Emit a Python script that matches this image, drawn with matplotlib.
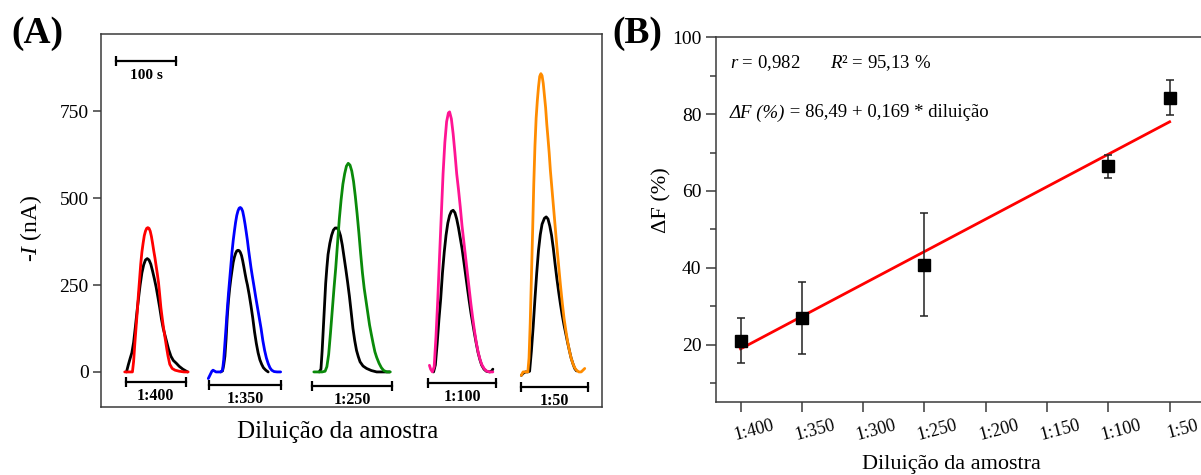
import matplotlib
matplotlib.use("Agg")
import matplotlib.pyplot as plt
from matplotlib.ticker import MultipleLocator
from matplotlib.transforms import ScaledTranslation

# Panel A: amperometric peaks, time in s, current in nA
# coloured trace = sample, black trace = control
t_400 = [40, 46, 53, 55, 57, 59, 61, 63, 65, 67, 69, 71, 73, 75, 77, 79, 81, 83, 85, 87,
         89, 91, 93, 95, 97, 99, 101, 103, 105, 107, 109, 111, 113, 116, 120, 125, 132, 140, 147]
i_400 = [0, 0, 0, 30, 80, 125, 170, 220, 265, 310, 345, 370, 392, 405, 413, 415, 413, 405, 390, 370,
         348, 328, 305, 282, 257, 222, 185, 158, 132, 110, 88, 66, 46, 22, 10, 5, 2, 0, 0]
tc_400 = [43, 46, 49, 52, 55, 58, 61, 64, 66, 69, 72, 75, 78, 81, 84, 87, 90, 93, 96, 99,
          102, 105, 108, 111, 114, 118, 122, 127, 132, 138, 143, 146]
ic_400 = [0, 20, 38, 55, 85, 130, 178, 222, 250, 285, 308, 322, 326, 322, 310, 290, 268, 244, 215, 185,
          152, 125, 105, 85, 65, 45, 33, 25, 16, 8, 3, 0]

t_350 = [181, 183, 185, 187, 189, 191, 194, 198, 202, 205, 207, 209, 211, 213, 215, 217, 219, 221, 223, 225,
         227, 229, 231, 233, 235, 237, 239, 241, 243, 245, 247, 249, 251, 253, 255, 258, 261, 264, 267, 270,
         273, 276, 279, 282, 285, 288, 292, 297, 303]
i_350 = [-19, -12, -5, 2, 5, 3, 0, 0, 0, 5, 35, 82, 130, 180, 225, 265, 305, 345, 378, 405,
         430, 450, 463, 471, 473, 470, 462, 445, 425, 402, 378, 350, 325, 300, 278, 247, 215, 185, 155, 125,
         90, 62, 40, 24, 12, 5, 1, 0, 0]
tc_350 = [202, 205, 207, 209, 211, 213, 215, 217, 219, 221, 223, 225, 227, 229, 231, 233, 235, 237, 239, 241,
          243, 245, 247, 250, 253, 256, 259, 262, 265, 268, 271, 274, 278, 282]
ic_350 = [0, 3, 20, 45, 95, 160, 205, 240, 268, 292, 315, 330, 341, 348, 350, 349, 344, 335, 320, 302,
          283, 265, 250, 222, 190, 155, 115, 82, 55, 35, 22, 12, 5, 0]

t_250 = [359, 366, 373, 378, 381, 384, 387, 390, 393, 396, 399, 402, 405, 408, 411, 414, 417, 420, 423, 426,
         429, 432, 435, 438, 441, 444, 447, 450, 453, 456, 459, 462, 465, 469, 473, 477, 482, 488]
i_250 = [0, 0, 0, 2, 15, 50, 110, 175, 240, 300, 370, 440, 495, 540, 570, 592, 600, 595, 578, 548,
         505, 455, 400, 340, 285, 240, 205, 170, 135, 108, 82, 58, 42, 25, 12, 4, 0, 0]
tc_250 = [368, 371, 373, 375, 377, 379, 381, 383, 386, 389, 392, 395, 398, 401, 404, 407, 410, 413, 416, 419,
          422, 425, 428, 431, 434, 437, 442, 448, 456, 465, 487]
ic_250 = [0, 8, 60, 125, 190, 255, 300, 338, 370, 393, 408, 414, 414, 408, 392, 365, 330, 295, 258, 218,
          172, 125, 90, 62, 44, 29, 17, 10, 4, 0, 0]

t_100 = [554, 556, 559, 562, 565, 568, 571, 574, 577, 580, 583, 586, 588, 591, 594, 597, 600, 603, 606, 609,
         612, 615, 618, 621, 624, 627, 630, 633, 636, 639, 642, 646, 650, 655, 661]
i_100 = [19, 8, 0, 15, 100, 205, 330, 450, 570, 660, 720, 745, 748, 728, 685, 630, 570, 525, 475, 420,
         375, 330, 285, 240, 195, 155, 118, 85, 58, 38, 22, 10, 3, 0, 0]
tc_100 = [561, 564, 567, 570, 573, 576, 579, 582, 585, 588, 591, 594, 597, 600, 603, 606, 609, 612, 615, 618,
          621, 624, 627, 630, 633, 636, 639, 642, 646, 650, 656, 659, 661]
ic_100 = [0, 20, 80, 150, 210, 285, 345, 393, 428, 450, 462, 465, 458, 440, 415, 385, 355, 318, 280, 242,
          205, 170, 140, 110, 82, 56, 36, 20, 8, 2, 0, 3, 8]

t_50 = [709, 712, 716, 720, 722, 724, 726, 728, 730, 732, 734, 736, 738, 740, 742, 744, 746, 748, 750, 752,
        754, 756, 758, 760, 763, 766, 769, 772, 775, 778, 781, 784, 787, 790, 793, 796, 799, 802, 806, 810,
        813, 816]
i_50 = [-10, 0, 0, 0, 40, 140, 270, 400, 540, 650, 730, 780, 820, 850, 858, 852, 830, 795, 760, 712,
        672, 630, 580, 540, 480, 420, 360, 305, 250, 200, 155, 120, 88, 62, 40, 24, 12, 5, 0, 0,
        5, 10]
tc_50 = [709, 712, 716, 720, 723, 726, 729, 732, 735, 738, 741, 744, 748, 751, 754, 757, 760, 763, 766, 769,
         772, 775, 778, 781, 784, 787, 790, 793, 796, 799, 802]
ic_50 = [-10, -4, 0, 0, 2, 60, 130, 210, 285, 350, 395, 425, 442, 446, 440, 420, 393, 355, 310, 268,
         230, 195, 163, 135, 110, 85, 62, 40, 24, 10, 3]

peak_colors = ["#ff0000", "#0000ff", "#0a8a0a", "#ff1493", "#ff8c00"]
dilution_labels = ["1:400", "1:350", "1:250", "1:100", "1:50"]
bar_start = [42, 183, 356, 552, 709]
bar_end = [143, 303, 491, 667, 821]
bar_level = [-30, -38, -40, -32, -43]

# Panel B: signal change vs dilution (x = -dilution factor)
dilution_x = [-400, -350, -250, -100, -50]
delta_f = [21.0, 26.9, 40.8, 66.4, 84.3]
delta_f_err = [5.9, 9.3, 13.4, 3.0, 4.6]
fit_x = [-400, -50]
fit_y = [18.9, 78.0]
b_ticks = [-400, -350, -300, -250, -200, -150, -100, -50]
b_tick_labels = ["1:400", "1:350", "1:300", "1:250", "1:200", "1:150", "1:100", "1:50"]


def style_spines(ax, visible):
    for side, spine in ax.spines.items():
        spine.set_visible(side in visible)
        spine.set_color("#3a3a3a")
        spine.set_linewidth(1.1)


def draw_panel_a(ax):
    samples = [(t_400, i_400), (t_350, i_350), (t_250, i_250), (t_100, i_100), (t_50, i_50)]
    controls = [(tc_400, ic_400), (tc_350, ic_350), (tc_250, ic_250), (tc_100, ic_100), (tc_50, ic_50)]
    for k in range(len(samples)):
        ax.plot(*controls[k], color="black", lw=2.0, solid_capstyle="round")
        ax.plot(*samples[k], color=peak_colors[k], lw=2.0, solid_capstyle="round")
        ax.plot([bar_start[k], bar_end[k]], [bar_level[k], bar_level[k]], color="black",
                lw=1.6, marker="|", markersize=7, markeredgewidth=1.6)
        ax.text((bar_start[k] + bar_end[k]) / 2, bar_level[k] - 40, dilution_labels[k],
                ha="center", va="center", fontsize=11.5, fontweight="bold")

    # 100 s scale bar
    ax.plot([26, 126], [895, 895], color="black", lw=1.6, marker="|",
            markersize=7, markeredgewidth=1.6)
    ax.text(76, 853, "100 s", ha="center", va="center", fontsize=11, fontweight="bold")

    ax.set_xlim(0, 845)
    ax.set_ylim(-100, 972)
    ax.set_yticks([0, 250, 500, 750])
    ax.set_xticks([])
    ax.tick_params(axis="y", direction="out", length=6, width=1.1, labelsize=14,
                   color="#3a3a3a", pad=3)
    style_spines(ax, ["left", "right", "top", "bottom"])


def draw_panel_b(ax, fig):
    ax.plot(fit_x, fit_y, color="#ff0000", lw=2.0, zorder=3)
    ax.errorbar(dilution_x, delta_f, yerr=delta_f_err, fmt="s", color="black",
                markersize=8, ecolor="#222222", elinewidth=1.1, capsize=3,
                capthick=1.1, zorder=4)

    ax.text(-409, 93.3, r"$r$ = 0,982", fontsize=13.5, va="center")
    ax.text(-327, 93.3, r"$R$² = 95,13 %", fontsize=13.5, va="center")
    eq_left = ax.text(-409, 80.3, "ΔF (%)", fontsize=13.5, va="center", style="italic")
    ax.annotate(" = 86,49 + 0,169 * diluição", xy=(1, 0.5), xycoords=eq_left,
                fontsize=13.5, va="center", ha="left")

    ax.set_xlim(-420, -20)
    ax.set_ylim(5, 100)
    ax.set_yticks([20, 40, 60, 80, 100])
    ax.yaxis.set_minor_locator(MultipleLocator(10))
    ax.set_xticks(b_ticks)
    ax.set_xticklabels(b_tick_labels, rotation=15, ha="center")
    ax.tick_params(axis="both", which="major", direction="out", length=7, width=1.1,
                   labelsize=14, color="#3a3a3a")
    ax.tick_params(axis="y", which="minor", direction="out", length=4, width=1.1,
                   color="#3a3a3a")
    ax.tick_params(axis="x", pad=5, labelsize=13)
    shift = ScaledTranslation(0.13, 0.02, fig.dpi_scale_trans)
    for label in ax.get_xticklabels():
        label.set_transform(label.get_transform() + shift)
    style_spines(ax, ["left", "top", "bottom"])


def main():
    plt.rcParams["font.family"] = ["Liberation Serif", "DejaVu Serif"]
    plt.rcParams["mathtext.fontset"] = "custom"
    plt.rcParams["mathtext.rm"] = "Liberation Serif"
    plt.rcParams["mathtext.it"] = "Liberation Serif:italic"
    plt.rcParams["mathtext.bf"] = "Liberation Serif:bold"

    fig = plt.figure(figsize=(12.01, 4.75), dpi=100)

    ax_a = fig.add_axes([0.0841, 0.1438, 0.4171, 0.7846])
    draw_panel_a(ax_a)
    fig.text(0.2814, 0.0905, "Diluição da amostra", ha="center", va="center", fontsize=18)
    fig.text(0.0258, 0.52, r"-$I$ (nA)", ha="center", va="center", rotation=90, fontsize=17)
    fig.text(0.031, 0.93, "(A)", ha="center", va="center", fontsize=27, fontweight="bold")

    ax_b = fig.add_axes([0.5962, 0.1531, 0.4083, 0.7684])
    draw_panel_b(ax_b, fig)
    fig.text(0.792, 0.022, "Diluição da amostra", ha="center", va="center", fontsize=16)
    fig.text(0.551, 0.579, "ΔF (%)", ha="center", va="center", rotation=90, fontsize=16)
    fig.text(0.531, 0.93, "(B)", ha="center", va="center", fontsize=27, fontweight="bold")

    fig.savefig("out.png", dpi=100)


if __name__ == "__main__":
    main()
